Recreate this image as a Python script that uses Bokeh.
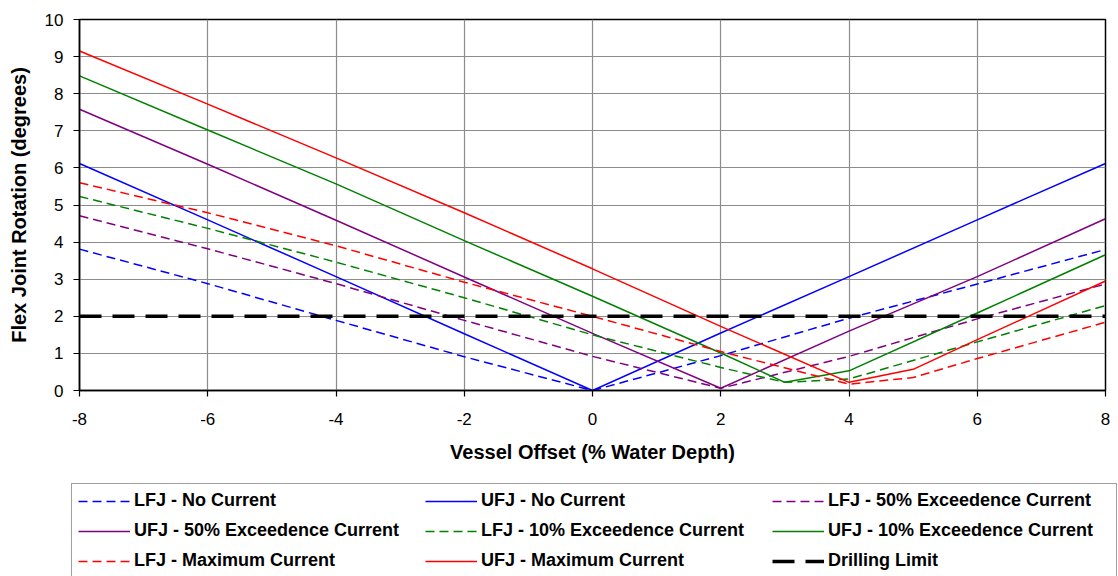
from bokeh.plotting import figure
from bokeh.models import Legend, LegendItem, Range1d, FixedTicker
from bokeh.layouts import column
from bokeh.embed import file_html
from bokeh.resources import INLINE

# ---- data ----
x_ticks = [-8, -6, -4, -2, 0, 2, 4, 6, 8]
x_tick_labels = ["-8", "-6", "-4", "-2", "0", "2", "4", "6", "8"]
y_ticks = [0, 1, 2, 3, 4, 5, 6, 7, 8, 9, 10]
y_tick_labels = ["0", "1", "2", "3", "4", "5", "6", "7", "8", "9", "10"]

lfj_no_x = [-8, -6, -4, -2, 0, 2, 4, 6, 8]
lfj_no_y = [3.81, 2.88, 1.89, 0.91, 0.0, 0.94, 1.95, 2.87, 3.80]

ufj_no_x = [-8, -6, -4, -2, 0, 2, 4, 6, 8]
ufj_no_y = [6.12, 4.60, 3.07, 1.53, 0.0, 1.55, 3.07, 4.60, 6.12]

lfj_50_x = [-8, -6, -4, -2, 0, 2, 4, 6, 8]
lfj_50_y = [4.71, 3.82, 2.88, 1.89, 0.92, 0.06, 0.92, 1.93, 2.87]

ufj_50_x = [-8, -6, -4, -2, 0, 2, 4, 6, 8]
ufj_50_y = [7.58, 6.10, 4.59, 3.06, 1.54, 0.06, 1.60, 3.07, 4.63]

lfj_10_x = [-8, -6, -4, -2, 0, 2, 3, 4, 6, 8]
lfj_10_y = [5.23, 4.37, 3.46, 2.50, 1.50, 0.62, 0.22, 0.31, 1.31, 2.29]

ufj_10_x = [-8, -6, -4, -2, 0, 2, 3, 4, 6, 8]
ufj_10_y = [8.48, 7.02, 5.57, 4.04, 2.54, 1.01, 0.22, 0.53, 2.09, 3.66]

lfj_max_x = [-8, -6, -4, -2, 0, 2, 4, 5, 6, 8]
lfj_max_y = [5.60, 4.79, 3.90, 2.92, 2.00, 1.05, 0.17, 0.35, 0.86, 1.84]

ufj_max_x = [-8, -6, -4, -2, 0, 2, 4, 5, 6, 8]
ufj_max_y = [9.15, 7.72, 6.27, 4.79, 3.28, 1.73, 0.22, 0.57, 1.37, 2.95]

drill_x = [-8, 8]
drill_y = [2, 2]

series_labels = [
    "LFJ - No Current", "UFJ - No Current", "LFJ - 50% Exceedence Current",
    "UFJ - 50% Exceedence Current", "LFJ - 10% Exceedence Current",
    "UFJ - 10% Exceedence Current", "LFJ - Maximum Current",
    "UFJ - Maximum Current", "Drilling Limit",
]

FONT = "Liberation Sans"
DASH = "9 5"
styles = [
    dict(line_color="#0000FF", line_width=1.5, line_dash=DASH),
    dict(line_color="#0000FF", line_width=1.5),
    dict(line_color="#800080", line_width=1.5, line_dash=DASH),
    dict(line_color="#800080", line_width=1.5),
    dict(line_color="#008000", line_width=1.5, line_dash=DASH),
    dict(line_color="#008000", line_width=1.5),
    dict(line_color="#FF0000", line_width=1.5, line_dash=DASH),
    dict(line_color="#FF0000", line_width=1.5),
    dict(line_color="black", line_width=3.5, line_dash="22 11"),
]
series = [
    (lfj_no_x, lfj_no_y), (ufj_no_x, ufj_no_y), (lfj_50_x, lfj_50_y),
    (ufj_50_x, ufj_50_y), (lfj_10_x, lfj_10_y), (ufj_10_x, ufj_10_y),
    (lfj_max_x, lfj_max_y), (ufj_max_x, ufj_max_y), (drill_x, drill_y),
]

# ---- main chart ----
p = figure(width=1118, height=470, x_range=Range1d(-8, 8), y_range=Range1d(0, 10),
           output_backend="svg", toolbar_location=None,
           min_border_left=79, min_border_right=13, min_border_top=19, min_border_bottom=80)
p.frame_align = False
p.background_fill_color = "white"
p.border_fill_color = "white"
p.outline_line_color = "black"
p.outline_line_width = 1.5

p.xaxis.ticker = FixedTicker(ticks=x_ticks)
p.yaxis.ticker = FixedTicker(ticks=y_ticks)
p.xaxis.major_label_overrides = {t: l for t, l in zip(x_ticks, x_tick_labels)}
p.yaxis.major_label_overrides = {t: l for t, l in zip(y_ticks, y_tick_labels)}

for ax in (p.xaxis[0], p.yaxis[0]):
    ax.axis_line_color = "black"
    ax.axis_line_width = 1.5
    ax.major_tick_out = 6
    ax.major_tick_in = 0
    ax.major_tick_line_color = "black"
    ax.major_tick_line_width = 1.2
    ax.minor_tick_out = 0
    ax.minor_tick_in = 0
    ax.major_label_text_font = FONT
    ax.major_label_text_font_size = "17px"
    ax.major_label_text_color = "black"
    ax.axis_label_text_font = FONT
    ax.axis_label_text_font_size = "20px"
    ax.axis_label_text_font_style = "bold"
    ax.axis_label_text_color = "black"

p.xaxis.axis_label = "Vessel Offset (% Water Depth)"
p.yaxis.axis_label = "Flex Joint Rotation (degrees)"
p.xaxis.major_label_standoff = 16
p.xaxis.axis_label_standoff = 13
p.yaxis.major_label_standoff = 10
p.yaxis.axis_label_standoff = 12

p.grid.grid_line_color = "#8c8c8c"
p.grid.grid_line_width = 1.2
p.xgrid.ticker = FixedTicker(ticks=x_ticks)
p.ygrid.ticker = FixedTicker(ticks=y_ticks)

for (xs, ys), st in zip(series, styles):
    p.line(xs, ys, **st)

# ---- legend strip below (its series lie outside its view; only the legend shows) ----
q = figure(width=1118, height=106, x_range=Range1d(100, 101), y_range=Range1d(100, 101),
           output_backend="svg", toolbar_location=None,
           x_axis_location=None, y_axis_location=None,
           min_border_left=0, min_border_right=0, min_border_top=0, min_border_bottom=0)
q.frame_align = False
q.outline_line_color = None
q.grid.visible = False
q.background_fill_color = "white"
q.border_fill_color = "white"

items = []
for lab, (xs, ys), st in zip(series_labels, series, styles):
    r = q.line(xs, ys, **st)
    items.append(LegendItem(label=lab, renderers=[r]))

legend = Legend(items=items, location=(71, -2), orientation="horizontal", ncols=3,
                label_text_font=FONT, label_text_font_size="18px",
                label_text_font_style="bold", label_text_color="black",
                glyph_width=52, glyph_height=20, label_height=20, label_width=282,
                label_standoff=4, spacing=9, padding=6, margin=0,
                border_line_color="#404040", border_line_width=1.2,
                background_fill_color="white", background_fill_alpha=1.0)
q.add_layout(legend, "center")

open("out.html", "w").write(file_html(column(p, q, spacing=0), INLINE))
